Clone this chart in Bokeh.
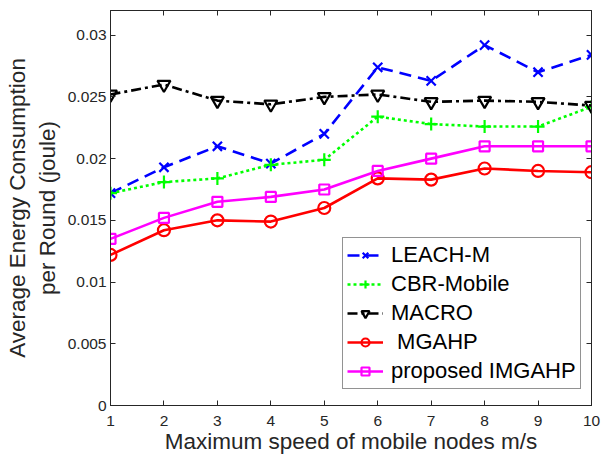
from bokeh.plotting import figure
from bokeh.models import (LinearAxis, FixedTicker, CustomJSTickFormatter, Range1d,
                          Legend, LegendItem)
from bokeh.embed import file_html
from bokeh.resources import INLINE

speed = [1, 2, 3, 4, 5, 6, 7, 8, 9, 10]
leach_m = [0.0172, 0.0193, 0.0210, 0.0196, 0.0220, 0.0274, 0.0263, 0.0292, 0.0270, 0.0284]
cbr_mobile = [0.0172, 0.0181, 0.0184, 0.0195, 0.0199, 0.0234, 0.0228, 0.0226, 0.0226, 0.0242]
macro = [0.0252, 0.0260, 0.0247, 0.0244, 0.0250, 0.0252, 0.0246, 0.0247, 0.0246, 0.0243]
mgahp = [0.0122, 0.0142, 0.0150, 0.0149, 0.0160, 0.0184, 0.0183, 0.0192, 0.0190, 0.0189]
imgahp = [0.0135, 0.0152, 0.0165, 0.0169, 0.0175, 0.0190, 0.0200, 0.0210, 0.0210, 0.0210]

x_ticks = [1, 2, 3, 4, 5, 6, 7, 8, 9, 10]
y_ticks = [0, 0.005, 0.01, 0.015, 0.02, 0.025, 0.03]

FONT = "Liberation Sans"
AX = "#262626"

p = figure(frame_width=481, frame_height=395, output_backend="svg", toolbar_location=None,
           x_range=Range1d(1, 10), y_range=Range1d(0, 0.032),
           min_border_left=110, min_border_right=11, min_border_top=10, min_border_bottom=57)
p.xgrid.visible = False
p.ygrid.visible = False
p.outline_line_color = AX
p.outline_line_width = 1

fmt = CustomJSTickFormatter(code="return String(tick);")
for ax, ticks in ((p.xaxis[0], x_ticks), (p.yaxis[0], y_ticks)):
    ax.ticker = FixedTicker(ticks=ticks)
    ax.formatter = fmt
    ax.major_tick_in = 5
    ax.major_tick_out = 0
    ax.minor_tick_in = 0
    ax.minor_tick_out = 0
    ax.axis_line_color = AX
    ax.major_tick_line_color = AX
    ax.major_label_text_font = FONT
    ax.major_label_text_font_size = "15.5px"
    ax.major_label_text_color = AX
    ax.axis_label_text_font = FONT
    ax.axis_label_text_font_size = "22.5px"
    ax.axis_label_text_font_style = "normal"
    ax.axis_label_text_color = AX

p.xaxis[0].axis_label = "Maximum speed of mobile nodes m/s"
p.xaxis[0].major_label_standoff = 10
p.xaxis[0].axis_label_standoff = 0
p.yaxis[0].axis_label = "Average Energy Consumption\nper Round (joule)"
p.yaxis[0].major_label_standoff = 4
p.yaxis[0].axis_label_standoff = 5

blank = CustomJSTickFormatter(code="return '';")
for loc, ticks in (("above", x_ticks), ("right", y_ticks)):
    a = LinearAxis(ticker=FixedTicker(ticks=ticks), formatter=blank,
                   major_tick_in=5, major_tick_out=0,
                   minor_tick_in=0, minor_tick_out=0, major_label_standoff=0,
                   axis_line_color=AX, major_tick_line_color=AX)
    p.add_layout(a, loc)

series = [
    ("LEACH-M", leach_m, "#0000ff", "12 7", "x", 13),
    ("CBR-Mobile", cbr_mobile, "#00ff00", "3 3", "cross", 13),
    ("MACRO", macro, "#000000", "10 4 3 4", "inverted_triangle", 13),
    (" MGAHP", mgahp, "#ff0000", "solid", "circle", 12),
    ("proposed IMGAHP", imgahp, "#ff00ff", "solid", "square", 10),
]

items = []
for name, ys, color, dash, marker, size in series:
    r1 = p.line(speed, ys, line_color=color, line_width=2.6, line_dash=dash)
    r2 = p.scatter(speed, ys, marker=marker, size=size,
                   line_color=color, line_width=2.2, fill_color=None)
    items.append(LegendItem(label=name, renderers=[r1, r2]))

legend = Legend(items=items, location=(232, 16))
legend.label_text_font = FONT
legend.label_text_font_size = "22px"
legend.label_text_color = "#000000"
legend.glyph_width = 36
legend.glyph_height = 20
legend.label_height = 20
legend.spacing = 3
legend.padding = 4
legend.margin = 0
legend.label_standoff = 8
legend.border_line_color = AX
legend.border_line_width = 1
legend.background_fill_color = "white"
legend.background_fill_alpha = 1
p.add_layout(legend, "center")

open("out.html", "w").write(file_html(p, INLINE))
